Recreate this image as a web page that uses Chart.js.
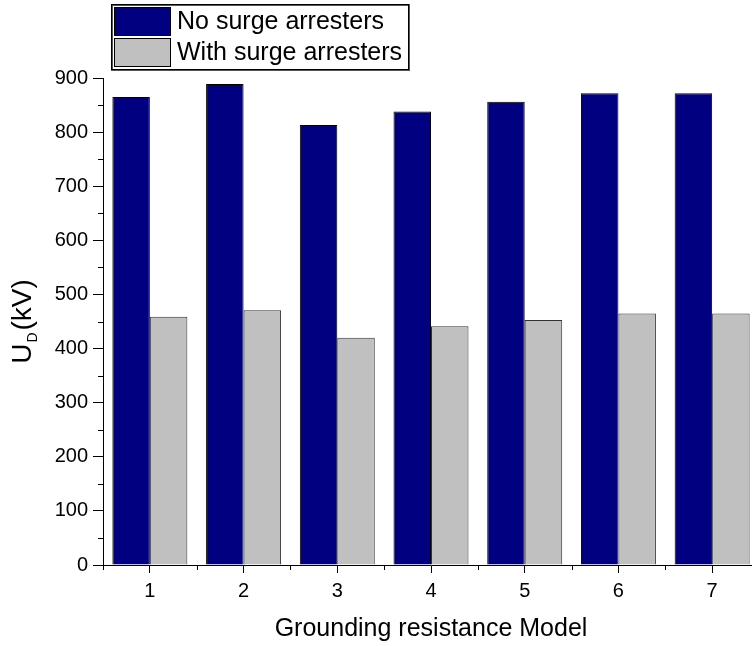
<!DOCTYPE html>
<html>
<head>
<meta charset="utf-8">
<script src="https://cdn.jsdelivr.net/npm/chart.js@4"></script>
<style>
  html, body { margin: 0; padding: 0; background: #fff; overflow: hidden; }
  #wrap { width: 752px; height: 646px; overflow: hidden; }
</style>
</head>
<body>
<div id="wrap"><canvas id="graph" width="780" height="646"></canvas></div>
<script>
const models = ['1', '2', '3', '4', '5', '6', '7'];
const noArresters = [865, 889, 813, 838, 856, 872, 872];
const withArresters = [459, 471, 420, 441, 453, 465, 465];
const seriesNames = ['No surge arresters', 'With surge arresters'];
const yTicks = [0, 100, 200, 300, 400, 500, 600, 700, 800, 900];

const FONT = 'Liberation Sans, Arial, sans-serif';

// minor ticks, y title with subscript, boxed legend
const extras = {
    id: 'extras',
    afterDraw(chart) {
        const ctx = chart.ctx;
        const x = chart.scales.x, y = chart.scales.y;
        const area = chart.chartArea;
        ctx.save();
        ctx.strokeStyle = '#000';
        ctx.lineWidth = 1;
        ctx.beginPath();
        for (let v = 50; v < 900; v += 100) {
            const py = Math.round(y.getPixelForValue(v)) + 0.5;
            ctx.moveTo(area.left - 5, py);
            ctx.lineTo(area.left, py);
        }
        const step = x.getPixelForValue(1) - x.getPixelForValue(0);
        for (let i = 0; i <= models.length; i++) {
            const px = Math.round(x.getPixelForValue(0) + (i - 0.5) * step) + 0.5;
            ctx.moveTo(px, area.bottom);
            ctx.lineTo(px, area.bottom + 5);
        }
        ctx.stroke();

        // y axis title
        ctx.fillStyle = '#000';
        ctx.translate(31, (area.top + area.bottom) / 2);
        ctx.rotate(-Math.PI / 2);
        ctx.textBaseline = 'alphabetic';
        ctx.textAlign = 'left';
        const big = '28px ' + FONT, small = '14px ' + FONT;
        ctx.font = big;
        const w1 = ctx.measureText('U').width;
        const w3 = ctx.measureText('(kV)').width;
        ctx.font = small;
        const w2 = ctx.measureText('D').width;
        const sx = -(w1 + w2 + w3 + 3) / 2;
        ctx.font = big;
        ctx.fillText('U', sx, 0);
        ctx.font = small;
        ctx.fillText('D', sx + w1 + 1, 6);
        ctx.font = big;
        ctx.fillText('(kV)', sx + w1 + w2 + 3, 0);
        ctx.restore();

        // legend
        ctx.save();
        const lx = 111, ly = 4, lw = 297, lh = 65;
        ctx.fillStyle = '#fff';
        ctx.fillRect(lx, ly, lw, lh);
        ctx.strokeStyle = '#555';
        ctx.lineWidth = 2;
        ctx.strokeRect(lx + 1, ly + 1, lw, lh);
        ctx.strokeStyle = '#000';
        ctx.lineWidth = 1;
        ctx.strokeRect(lx + 0.5, ly + 0.5, lw, lh);
        const rows = [[7, 35], [38, 66]];
        chart.data.datasets.forEach((ds, i) => {
            const [t, b] = rows[i];
            ctx.fillStyle = ds.backgroundColor;
            ctx.fillRect(114, t, 56, b - t);
            ctx.strokeStyle = '#000';
            ctx.strokeRect(114.5, t + 0.5, 56, b - t);
            ctx.fillStyle = '#000';
            ctx.font = '25px ' + FONT;
            ctx.textBaseline = 'middle';
            ctx.textAlign = 'left';
            ctx.fillText(ds.label, 177, (t + b) / 2 + 1);
        });
        ctx.restore();
    }
};

const data = {
    labels: models,
    datasets: [{
        label: seriesNames[0],
        data: noArresters,
        backgroundColor: '#000080',
        borderColor: '#000000',
        borderWidth: 1
    }, {
        label: seriesNames[1],
        data: withArresters,
        backgroundColor: '#c0c0c0',
        borderColor: '#333333',
        borderWidth: 1
    }]
};

const config = {
    type: 'bar',
    data: data,
    options: {
        responsive: false,
        animation: false,
        categoryPercentage: 0.8,
        barPercentage: 1.0,
        layout: { padding: { top: 78, right: 21, left: 0, bottom: 0 } },
        plugins: {
            legend: { display: false },
            tooltip: { enabled: false }
        },
        scales: {
            x: {
                offset: true,
                grid: { offset: false, drawOnChartArea: false, tickLength: 8, color: '#000' },
                border: { color: '#000', width: 1 },
                ticks: { color: '#000', font: { family: FONT, size: 20 }, padding: 6, maxRotation: 0 },
                title: {
                    display: true, text: 'Grounding resistance Model', color: '#000',
                    font: { family: FONT, size: 25 }, padding: { top: 10, bottom: 2 }
                },
                afterFit: (s) => { s.height = 81; }
            },
            y: {
                min: 0,
                max: 900,
                afterBuildTicks: (s) => { s.ticks = yTicks.map(v => ({ value: v })); },
                grid: { drawOnChartArea: false, tickLength: 10, color: '#000' },
                border: { color: '#000', width: 1 },
                ticks: { color: '#000', font: { family: FONT, size: 20 }, padding: 5 },
                afterFit: (s) => { s.width = 103; }
            }
        }
    },
    plugins: [extras]
};

new Chart(document.getElementById('graph'), config);
</script>
</body>
</html>
